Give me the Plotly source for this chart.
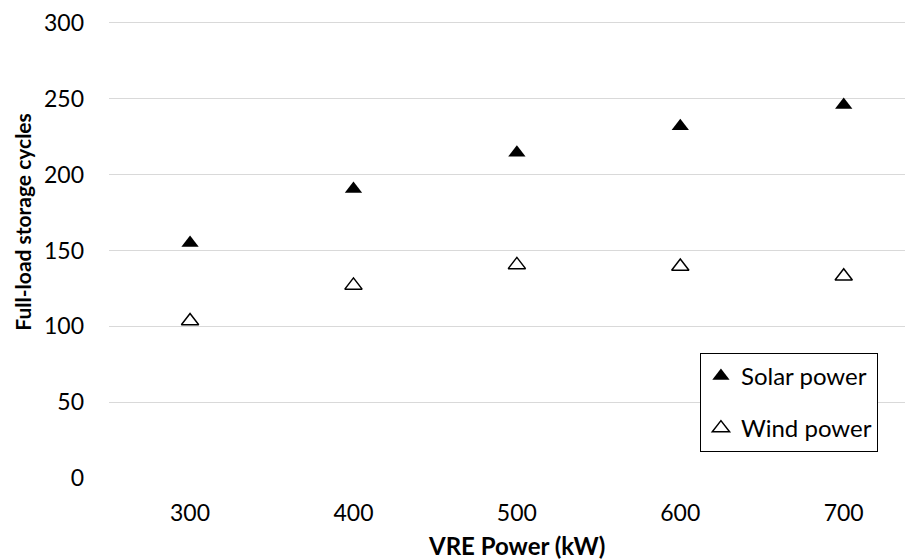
import plotly.graph_objects as go

# ---- data ----
vre_power = [300, 400, 500, 600, 700]
solar_cycles = [155, 190.5, 214.5, 232, 246]
wind_cycles = [103.5, 127, 140.5, 139.5, 133]
x_tick_labels = ["300", "400", "500", "600", "700"]
y_ticks = [0, 50, 100, 150, 200, 250, 300]
series_names = ["Solar power", "Wind power"]
x_title = "VRE Power (kW)"
y_title = "Full-load storage cycles"

FONT = "Lato, 'Open Sans', sans-serif"

fig = go.Figure()
fig.add_trace(go.Scatter(
    x=vre_power, y=solar_cycles, mode="markers", name=series_names[0],
    legendgroup="solar",
    marker=dict(symbol="triangle-up", size=15, color="black", line=dict(width=0)),
))
fig.add_trace(go.Scatter(
    x=vre_power, y=wind_cycles, mode="markers", name=series_names[1],
    legendgroup="wind",
    marker=dict(symbol="triangle-up", size=15, color="white",
                line=dict(width=1.5, color="black")),
))

# the page body has an 8px default margin, so the figure is sized to fit the window
fig.update_layout(
    width=905, height=552,
    margin=dict(l=101, r=0, t=9, b=81),
    paper_bgcolor="white", plot_bgcolor="white",
    font=dict(family=FONT, size=23, color="black"),
    showlegend=True,
    legend=dict(
        x=0.735, y=0.2749, xanchor="left", yanchor="top",
        bordercolor="black", borderwidth=1, bgcolor="white",
        font=dict(size=24, color="black"),
        traceorder="grouped", tracegroupgap=18,
    ),
    xaxis=dict(
        range=[250.4, 742.4],
        tickmode="array", tickvals=vre_power, ticktext=x_tick_labels,
        showgrid=False, zeroline=False, showline=False, ticks="",
        tickfont=dict(size=23, color="black"),
        ticklabelstandoff=18, ticklabeloverflow="allow",
    ),
    yaxis=dict(
        range=[-0.65, 301.97],
        tickmode="array", tickvals=y_ticks,
        showgrid=True, gridcolor="#d9d9d9", gridwidth=1.3,
        zeroline=False, showline=False, ticks="",
        tickfont=dict(size=23, color="black"),
        ticklabelstandoff=24, ticklabeloverflow="allow",
    ),
    annotations=[
        dict(text="<b>" + x_title + "</b>", x=500, xref="x",
             y=-0.145, yref="paper", xanchor="center", yanchor="middle",
             showarrow=False, font=dict(size=24, color="black")),
        dict(text="<b>" + y_title + "</b>", x=-0.107, xref="paper",
             y=0.5606, yref="paper", xanchor="center", yanchor="middle",
             textangle=-90, showarrow=False, font=dict(size=21, color="black")),
    ],
)

fig.write_html("out.html")
